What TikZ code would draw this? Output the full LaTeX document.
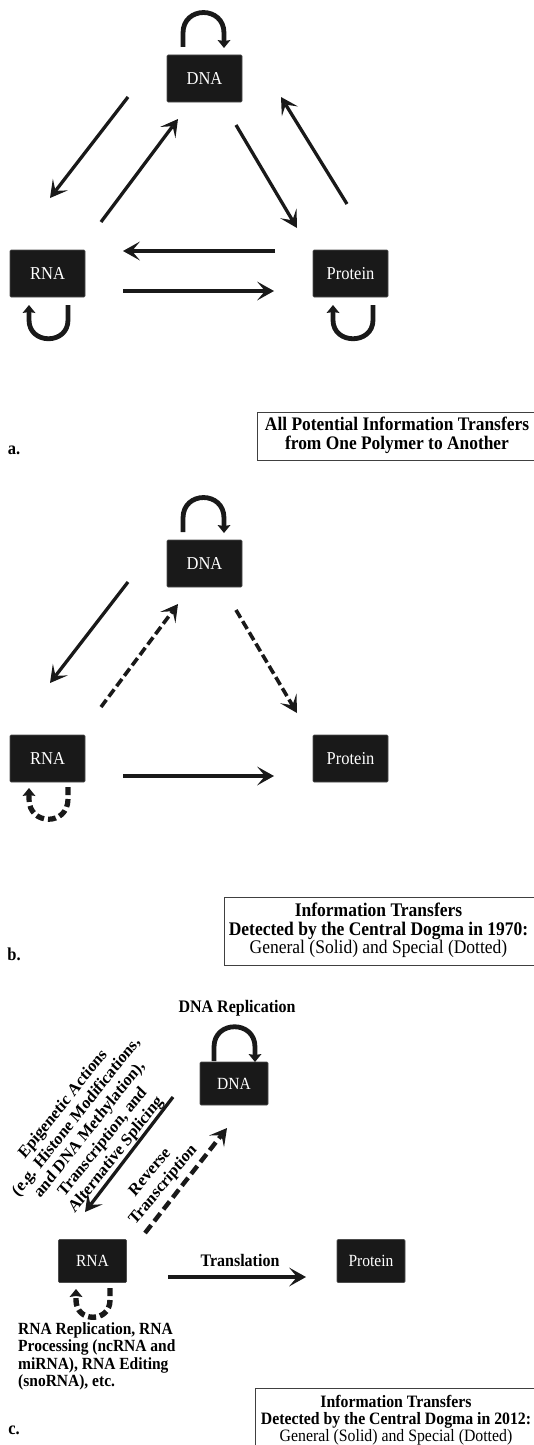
\documentclass[tikz,border=0pt]{standalone}
\usepackage{fontspec}
\usepackage{graphicx}
\setmainfont{Liberation Serif}
\usetikzlibrary{arrows.meta}
\newcommand{\vst}[1]{\scalebox{1}[1.1]{#1}}
\newcommand{\vlines}[2]{\scalebox{1}[1.1]{\begin{tabular}{@{}#1@{}}#2\end{tabular}}}
\newcommand{\rlines}[2]{\scalebox{1}[1.1]{\rotatebox{#1}{\begin{tabular}{@{}c@{}}#2\end{tabular}}}}
\begin{document}
\begin{tikzpicture}[x=1pt,y=-1pt,
  poly/.style={fill=black!90, draw=black!70, line width=0.6pt, rounded corners=1pt,
    minimum width=75pt, minimum height=47pt, inner sep=0pt, text=white,
    font=\fontsize{16.5}{18}\selectfont},
  polyc/.style={poly, minimum width=68pt, minimum height=43pt, font=\fontsize{15.5}{17}\selectfont},
  arr/.style={draw=black!90, line width=3.3pt,
    -{Stealth[length=17pt,width=19pt,inset=8pt,line width=0pt]}},
  darr/.style={arr, line width=3.6pt, dash pattern=on 9pt off 4pt},
  darrc/.style={arr, line width=4.4pt, dash pattern=on 10pt off 5pt},
  loopa/.style={draw=black!90, line width=4.8pt,
    -{Stealth[length=8pt,width=13pt,inset=1pt,line width=0pt]}},
  dloop/.style={loopa, line width=5.2pt, dash pattern=on 8pt off 4pt},
  capbox/.style={draw=black!75, line width=0.9pt},
  captext/.style={inner sep=0pt, font=\fontsize{17.4}{16.4}\selectfont},
  captextb/.style={inner sep=0pt, font=\fontsize{17.5}{15.4}\selectfont},
  captextc/.style={inner sep=0pt, font=\fontsize{15.8}{14.6}\selectfont},
  plabel/.style={inner sep=0pt, font=\fontsize{16.5}{18}\selectfont\bfseries},
  blab/.style={inner sep=0pt, font=\fontsize{16}{17.5}\selectfont\bfseries},
  rlab/.style={inner sep=0pt, font=\fontsize{15.8}{17.5}\selectfont\bfseries},
]
\useasboundingbox (0,0) rectangle (533,1445);

% ================= panel a =================
\node[poly] (dnaA) at (204.5,78.5) {\vst{DNA}};
\node[poly] (rnaA) at (47.5,273.5) {\vst{RNA}};
\node[poly] (proA) at (350.5,273.5) {\vst{Protein}};

\coordinate (a1s) at (128,97);  \coordinate (a1e) at (50,198);
\coordinate (a2s) at (101,222); \coordinate (a2e) at (178,119);
\coordinate (a3s) at (236,125); \coordinate (a3e) at (297,228);
\coordinate (a4s) at (347,204); \coordinate (a4e) at (281,97);
\coordinate (a5s) at (275,251); \coordinate (a5e) at (123,251);
\coordinate (a6s) at (123,291); \coordinate (a6e) at (274,291);
\draw[arr] (a1s) -- (a1e);
\draw[arr] (a2s) -- (a2e);
\draw[arr] (a3s) -- (a3e);
\draw[arr] (a4s) -- (a4e);
\draw[arr] (a5s) -- (a5e);
\draw[arr] (a6s) -- (a6e);

\coordinate (la1s) at (183,47); \coordinate (la1e) at (224,48);
\draw[loopa] (la1s) -- (183,33) .. controls (183,5.7) and (224,5.7) .. (224,33) -- (la1e);
\coordinate (la2s) at (68,305); \coordinate (la2e) at (29,305);
\draw[loopa] (la2s) -- (68,320) .. controls (68,345) and (29,345) .. (29,320) -- (la2e);
\coordinate (la3s) at (373,305); \coordinate (la3e) at (333,305);
\draw[loopa] (la3s) -- (373,320) .. controls (373,345) and (333,345) .. (333,320) -- (la3e);

\node[plabel] (labA) at (14,450) {\vst{a.}};
\draw[capbox] (257,412) rectangle (536,460);
\node[captext] (capA) at (397,436) {\vlines{c}{\textbf{All Potential Information Transfers}\\\textbf{from One Polymer to Another}}};

% ================= panel b =================
\node[poly] (dnaB) at (204.5,563.5) {\vst{DNA}};
\node[poly] (rnaB) at (47.5,758.5) {\vst{RNA}};
\node[poly] (proB) at (350.5,758.5) {\vst{Protein}};

\coordinate (b1s) at (128,582); \coordinate (b1e) at (50,683);
\coordinate (b2s) at (101,707); \coordinate (b2e) at (178,604);
\coordinate (b3s) at (236,610); \coordinate (b3e) at (297,713);
\coordinate (b6s) at (123,776); \coordinate (b6e) at (274,776);
\draw[arr] (b1s) -- (b1e);
\draw[darr] (b2s) -- (b2e);
\draw[darr] (b3s) -- (b3e);
\draw[arr] (b6s) -- (b6e);

\coordinate (lb1s) at (183,532); \coordinate (lb1e) at (224,533);
\draw[loopa] (lb1s) -- (183,518) .. controls (183,490.7) and (224,490.7) .. (224,518) -- (lb1e);
\coordinate (lb2s) at (68,787); \coordinate (lb2e) at (29,788);
\draw[dloop] (lb2s) -- (68,799) .. controls (68,826) and (29,826) .. (29,799) -- (lb2e);

\node[plabel] (labB) at (14,954) {\vst{b.}};
\draw[capbox] (224,897) rectangle (536,965);
\node[captextb] (capB) at (378.5,931) {\vlines{c}{\textbf{Information Transfers}\\\textbf{Detected by the Central Dogma in 1970:}\\General (Solid) and Special (Dotted)}};

% ================= panel c =================
\node[polyc] (dnaC) at (234,1083.5) {\vst{DNA}};
\node[polyc] (rnaC) at (92.5,1261) {\vst{RNA}};
\node[polyc] (proC) at (371,1261) {\vst{Protein}};

\node[blab] (repC) at (237,1008) {\vst{DNA Replication}};

\coordinate (c1s) at (173,1097); \coordinate (c1e) at (85,1212);
\coordinate (c2s) at (145,1233); \coordinate (c2e) at (227,1128);
\coordinate (c6s) at (168,1277); \coordinate (c6e) at (306,1277);
\draw[arr] (c1s) -- (c1e);
\draw[darrc] (c2s) -- (c2e);
\draw[arr] (c6s) -- (c6e);

\node[rlab] (epiC) at (90,1130) {\rlines{49}{Epigenetic Actions\\(e.g. Histone Modifications,\\and DNA Methylation),\\Transcription, and\\Alternative Splicing}};
\node[rlab] (revC) at (157,1179) {\rlines{48}{Reverse\\Transcription}};
\node[blab] (traC) at (240,1260) {\vst{Translation}};

\coordinate (lc1s) at (214,1061); \coordinate (lc1e) at (255,1062);
\draw[loopa] (lc1s) -- (214,1047) .. controls (214,1020) and (255,1020) .. (255,1047) -- (lc1e);
\coordinate (lc2s) at (110,1288); \coordinate (lc2e) at (76,1289);
\draw[dloop, line width=5.4pt] (lc2s) -- (110,1300) .. controls (110,1323) and (76,1323) .. (76,1300) -- (lc2e);

\node[inner sep=0pt, anchor=west, font=\fontsize{15.5}{16}\selectfont\bfseries] (rnaTxt) at (18,1357) {\vlines{l}{RNA Replication, RNA\\Processing (ncRNA and\\miRNA), RNA Editing\\(snoRNA), etc.}};

\node[plabel] (labC) at (14,1430) {\vst{c.}};
\draw[capbox] (255,1388) rectangle (536,1452);
\node[captextc] (capC) at (396,1421) {\vlines{c}{\textbf{Information Transfers}\\\textbf{Detected by the Central Dogma in 2012:}\\General (Solid) and Special (Dotted)}};
\end{tikzpicture}
\end{document}
